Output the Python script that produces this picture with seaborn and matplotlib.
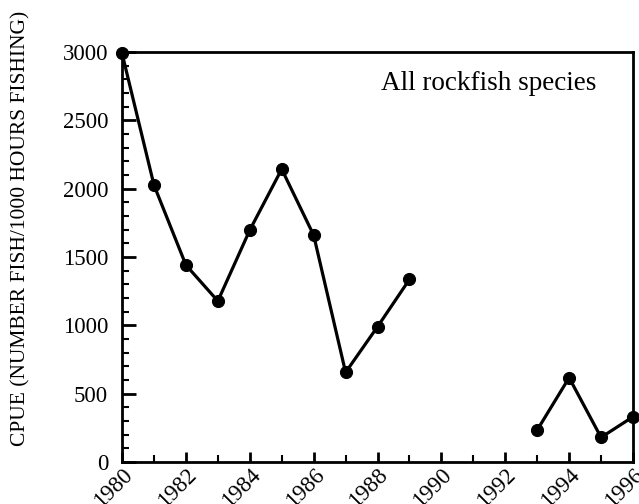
import matplotlib
matplotlib.use("Agg")
import matplotlib.pyplot as plt
import seaborn as sns
import pandas as pd
import numpy as np
from matplotlib.ticker import MultipleLocator

years_a = [1980, 1981, 1982, 1983, 1984, 1985, 1986, 1987, 1988, 1989]
cpue_a = [2990, 2026, 1441, 1178, 1697, 2143, 1660, 656, 990, 1336]
years_b = [1993, 1994, 1995, 1996]
cpue_b = [234, 617, 180, 331]
x_ticks = list(range(1980, 1997, 2))
y_ticks = [0, 500, 1000, 1500, 2000, 2500, 3000]
label_text = "All rockfish species"
ylabel = "CPUE (NUMBER FISH/1000 HOURS FISHING)"

df = pd.DataFrame({
    "year": years_a + years_b,
    "cpue": cpue_a + cpue_b,
    "period": ["a"] * len(years_a) + ["b"] * len(years_b),
})

sns.set_theme(style="ticks")
plt.rcParams["font.family"] = ["Liberation Serif", "DejaVu Serif"]

fig = plt.figure(figsize=(6.39, 5.04), dpi=100)
ax = fig.add_axes([0.191, 0.0833, 0.7996, 0.8135])

sns.lineplot(data=df, x="year", y="cpue", units="period", estimator=None,
             color="black", linewidth=2.3, marker="o", markersize=8.7,
             markeredgecolor="black", ax=ax, clip_on=False, zorder=5)

ax.set_xlim(1980, 1996)
ax.set_ylim(0, 3000)
ax.set_xticks(x_ticks)
ax.set_xticklabels([str(t) for t in x_ticks], rotation=45, ha="right",
                   rotation_mode="anchor")
ax.set_yticks(y_ticks)
ax.set_yticklabels([str(t) for t in y_ticks])
ax.xaxis.set_minor_locator(MultipleLocator(1))
ax.yaxis.set_minor_locator(MultipleLocator(100))

ax.tick_params(axis="both", which="major", direction="in", width=2,
               labelsize=16.5, color="black", labelcolor="black")
ax.tick_params(axis="y", which="major", length=10, pad=10)
ax.tick_params(axis="x", which="major", length=7, pad=2)
ax.tick_params(axis="both", which="minor", direction="in", length=5, width=1.5,
               color="black")

for s in ["left", "bottom", "top", "right"]:
    ax.spines[s].set_visible(True)
    ax.spines[s].set_color("black")
    ax.spines[s].set_linewidth(2)

ax.set_xlabel("")
ax.set_ylabel(ylabel, fontsize=15.5, color="black")
ax.yaxis.set_label_coords(-0.18, 0.571)
ax.text(0.928, 0.924, label_text, transform=ax.transAxes, ha="right",
        va="center", fontsize=19.5, color="black")

fig.savefig("out.png", dpi=100)
